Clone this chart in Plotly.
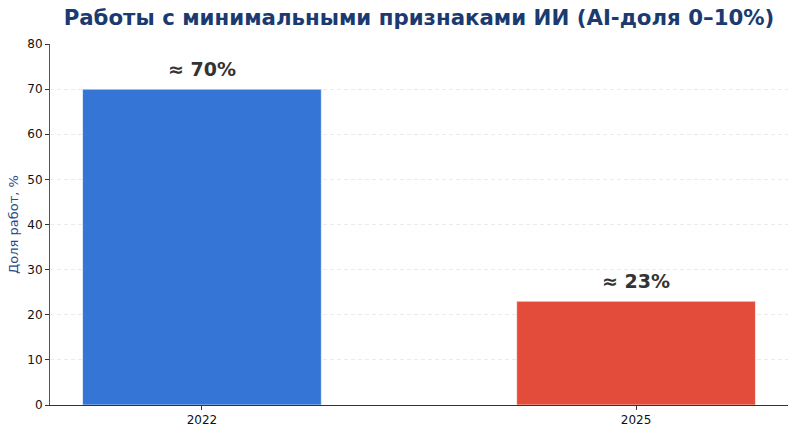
import plotly.graph_objects as go

years = ["2022", "2025"]
shares = [70, 23]
labels = ["≈ 70%", "≈ 23%"]
colors = ["#3575d6", "#e34b3b"]

fig = go.Figure()
fig.add_trace(go.Bar(
    x=[0, 1], y=shares, width=0.55,
    marker=dict(color=colors, line=dict(color="rgba(255,255,255,0.6)", width=1)),
    hoverinfo="skip",
))
for i, (v, t) in enumerate(zip(shares, labels)):
    fig.add_annotation(x=i, y=v, text=t, showarrow=False, yshift=20,
                       font=dict(family="DejaVu Sans", size=19, color="#333333", weight="bold"))

fig.update_layout(
    width=797, height=433,
    margin=dict(l=50, r=9, t=44, b=28),
    plot_bgcolor="white", paper_bgcolor="white",
    showlegend=False,
    title=dict(text="<b>Работы с минимальными признаками ИИ (AI-доля 0–10%)</b>",
               x=0.5, xref="paper", xanchor="center", y=0.976, yanchor="top",
               font=dict(family="DejaVu Sans", size=21.3, color="#1a3a70")),
    font=dict(family="DejaVu Sans", size=12, color="#111111"),
)
fig.update_xaxes(
    range=[-0.35, 1.35], tickmode="array", tickvals=[0, 1], ticktext=years,
    showgrid=False, zeroline=False, showline=True, linecolor="#333333", linewidth=1,
    ticks="outside", ticklen=4, tickcolor="#333333", tickfont=dict(size=12),
    automargin=False,
)
fig.update_yaxes(
    range=[0, 80], dtick=10, showgrid=True, gridcolor="#ebebeb", griddash="4px,3px",
    zeroline=False, showline=True, linecolor="#555555", linewidth=1,
    ticks="outside", ticklen=4, tickcolor="#333333", tickfont=dict(size=12),
    title=dict(text="Доля работ, %", font=dict(size=13, color="#2a4a8a"), standoff=5),
    automargin=False,
)
fig.write_html("out.html")
